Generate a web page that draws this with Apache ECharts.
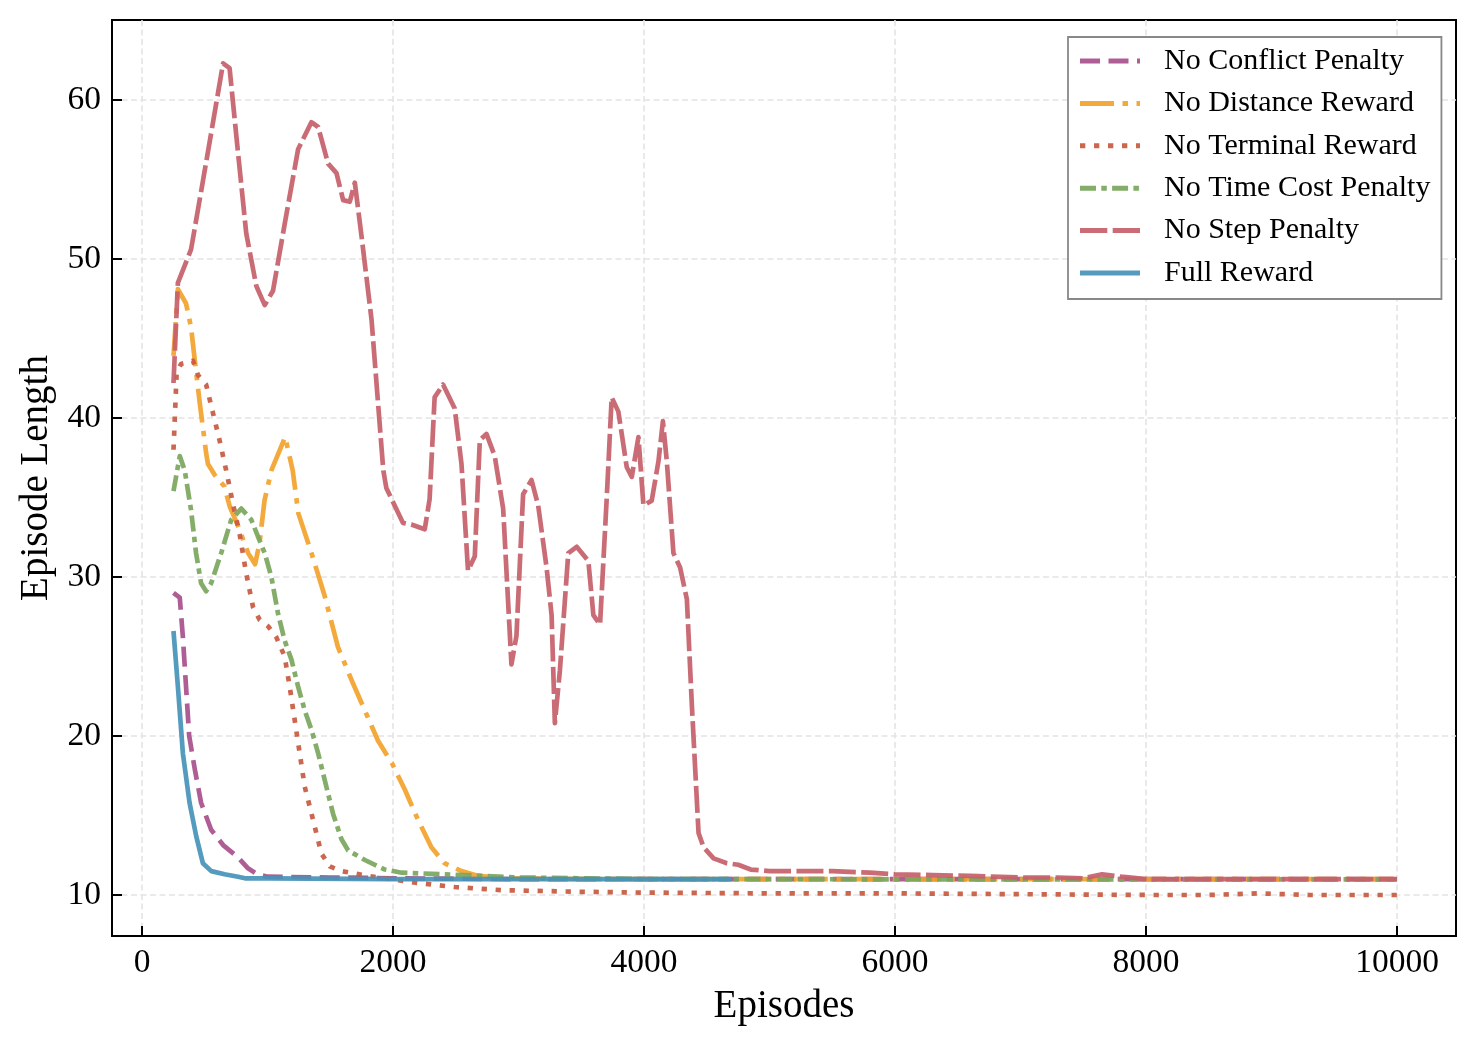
<!DOCTYPE html>
<html>
<head>
<meta charset="utf-8">
<title>Episode Length</title>
<script src="https://cdn.jsdelivr.net/npm/echarts@6/dist/echarts.min.js"></script>
<style>
  html, body { margin: 0; padding: 0; background: #fff; }
  #chart { width: 1479px; height: 1047px; }
</style>
</head>
<body>
<div id="chart"></div>
<script>
// data: [episode, episode length]
var xTicks = [0, 2000, 4000, 6000, 8000, 10000];
var yTicks = [10, 20, 30, 40, 50, 60];

var seriesNames = ['No Conflict Penalty', 'No Distance Reward', 'No Terminal Reward',
    'No Time Cost Penalty', 'No Step Penalty', 'Full Reward'];

var noConflict = [[250, 29.0], [300, 28.7], [325, 26.2], [350, 23.1], [375, 20.0], [420, 17.9],
    [470, 15.8], [550, 14.1], [650, 13.1], [760, 12.4], [840, 11.7], [920, 11.3], [1000, 11.15],
    [1500, 11.1], [2000, 11.05], [3000, 11.0], [4000, 11.0], [5000, 11.0], [6000, 11.0],
    [7000, 11.0], [8000, 11.0], [9000, 11.0], [10000, 11.0]];

var noDistance = [[250, 43.9], [285, 48.1], [350, 47.2], [390, 45.7], [420, 43.6], [460, 40.9],
    [510, 37.8], [525, 37.1], [580, 36.4], [655, 35.7], [700, 34.4], [765, 33.2], [845, 31.5],
    [900, 30.8], [935, 32.1], [975, 34.8], [1030, 36.7], [1140, 38.8], [1200, 36.7], [1245, 34.0],
    [1350, 31.5], [1455, 28.8], [1560, 25.6], [1670, 23.5], [1775, 21.6], [1880, 19.7],
    [1990, 18.3], [2095, 16.6], [2200, 14.7], [2305, 13.0], [2410, 12.0], [2545, 11.5],
    [2680, 11.2], [2900, 11.05], [3500, 11.0], [4500, 11.0], [5500, 11.0], [6500, 11.0],
    [7500, 11.0], [8500, 11.0], [10000, 11.0]];

var noTerminal = [[250, 38.0], [275, 42.8], [310, 43.4], [405, 43.6], [445, 42.7], [510, 42.1],
    [565, 40.3], [617, 38.6], [670, 36.7], [724, 34.6], [777, 32.7], [830, 30.2], [884, 28.1],
    [937, 27.3], [1004, 26.9], [1070, 26.2], [1136, 25.0], [1176, 23.1], [1216, 21.0],
    [1256, 18.9], [1296, 16.8], [1363, 14.7], [1429, 12.6], [1496, 11.8], [1589, 11.5],
    [1800, 11.2], [2150, 10.8], [2490, 10.5], [2870, 10.3], [3500, 10.2], [4000, 10.15],
    [5000, 10.1], [6000, 10.1], [7000, 10.05], [8000, 10.0], [8500, 10.0], [8900, 10.1],
    [9300, 10.0], [10000, 10.0]];

var noTimeCost = [[250, 35.4], [300, 37.6], [340, 36.7], [390, 34.2], [430, 31.5], [470, 29.6],
    [510, 29.1], [550, 29.6], [630, 31.5], [710, 33.6], [790, 34.3], [870, 33.6], [925, 32.5],
    [977, 31.5], [1030, 30.0], [1083, 27.7], [1136, 26.0], [1190, 24.8], [1243, 23.1],
    [1296, 21.6], [1349, 20.4], [1403, 18.9], [1456, 17.2], [1522, 15.1], [1589, 13.5],
    [1642, 12.8], [1775, 12.2], [1935, 11.6], [2068, 11.4], [2413, 11.3], [3000, 11.1],
    [4000, 11.0], [5000, 11.0], [6000, 10.98], [7000, 10.98], [8000, 10.98], [9000, 10.98],
    [10000, 10.98]];

var noStep = [[250, 42.2], [285, 48.5], [390, 50.6], [445, 53.1], [550, 57.9], [645, 62.3],
    [697, 62.0], [764, 56.7], [830, 51.6], [910, 48.3], [977, 47.1], [1043, 48.0], [1136, 52.2],
    [1243, 56.9], [1349, 58.6], [1403, 58.3], [1482, 56.0], [1549, 55.4], [1602, 53.7],
    [1655, 53.6], [1695, 54.8], [1749, 51.4], [1828, 46.2], [1922, 36.7], [1946, 35.6],
    [2079, 33.4], [2145, 33.3], [2252, 33.0], [2291, 34.9], [2331, 41.3], [2398, 42.1],
    [2491, 40.6], [2545, 37.1], [2597, 30.4], [2651, 31.3], [2691, 38.6], [2744, 39.0],
    [2810, 37.6], [2877, 34.3], [2943, 24.5], [2983, 26.3], [3036, 35.2], [3103, 36.1],
    [3156, 34.5], [3223, 30.6], [3263, 27.6], [3289, 20.8], [3329, 24.1], [3396, 31.5],
    [3463, 31.9], [3556, 31.0], [3596, 27.6], [3649, 27.0], [3702, 34.9], [3742, 41.3],
    [3795, 40.4], [3862, 36.9], [3902, 36.3], [3955, 38.8], [3995, 34.5], [4061, 34.8],
    [4115, 37.3], [4150, 39.8], [4181, 37.3], [4234, 31.5], [4287, 30.6], [4341, 28.6],
    [4381, 21.9], [4434, 13.9], [4474, 13.0], [4554, 12.3], [4660, 12.0], [4750, 11.9],
    [4850, 11.6], [5000, 11.5], [5200, 11.5], [5500, 11.5], [5800, 11.4], [6000, 11.3],
    [6300, 11.25], [6600, 11.2], [7000, 11.1], [7300, 11.1], [7500, 11.05], [7650, 11.3],
    [7800, 11.15], [8000, 11.0], [9000, 11.0], [10000, 11.0]];

var fullReward = [[250, 26.6], [285, 23.1], [325, 18.9], [378, 15.8], [431, 13.7], [484, 12.0],
    [551, 11.5], [657, 11.3], [764, 11.15], [820, 11.05], [1000, 11.05], [2000, 11.0],
    [3000, 11.0], [4000, 11.0], [4700, 11.0]];

var FONT = '"Liberation Serif", "Times New Roman", serif';

var seriesData = [noConflict, noDistance, noTerminal, noTimeCost, noStep, fullReward];
var colors = ['#a8508c', '#f2a22a', '#c85a40', '#7aa65c', '#c5606a', '#4693b7'];
var dashes = [[20, 8.5], [34, 8.5, 5.5, 8.5], [5.3, 8.7], [16, 5.3, 5.5, 5.3], [27, 5.4], 'solid'];

// legend swatches: dash segments as [start, end] along a 60px line
var legendSegments = [
    [[0, 20], [28.5, 48.5], [57, 60]],
    [[0, 34], [42.5, 48], [56.5, 60]],
    [[0, 5.3], [14, 19.3], [28, 33.3], [42, 47.3], [56, 60]],
    [[0, 16], [21.3, 26.8], [32.1, 48.1], [53.4, 58.9], [59.9, 60]],
    [[0, 27.3], [32.7, 60]],
    [[0, 60]]
];

function segIcon(segs) {
    var h = 5;
    return 'path://' + segs.map(function (s) {
        return 'M' + s[0] + ',0H' + s[1] + 'V' + h + 'H' + s[0] + 'Z';
    }).join('');
}

var series = seriesData.map(function (d, i) {
    return {
        name: seriesNames[i],
        type: 'line',
        data: d,
        showSymbol: false,
        symbol: 'none',
        smooth: false,
        lineStyle: {
            color: colors[i],
            width: 4.7,
            type: dashes[i],
            cap: 'butt',
            join: 'round',
            opacity: 0.92
        },
        itemStyle: { color: colors[i] }
    };
});

var chart = echarts.init(document.getElementById('chart'));

var option = {
    animation: false,
    backgroundColor: '#fff',
    grid: {
        left: 112, top: 20, right: 23, bottom: 111,
        show: true, borderColor: '#000', borderWidth: 2, backgroundColor: 'transparent'
    },
    legend: {
        orient: 'vertical',
        left: 1068,
        top: 37,
        padding: [9, 11, 11, 12],
        itemWidth: 60,
        itemHeight: 5,
        itemGap: 12.4,
        borderColor: '#888',
        borderWidth: 1.8,
        borderRadius: 0,
        backgroundColor: '#fff',
        selectedMode: false,
        textStyle: {
            fontFamily: FONT,
            fontSize: 30,
            color: '#000',
            lineHeight: 30,
            padding: [0, 0, 0, 19]
        },
        data: seriesNames.map(function (n, i) {
            return { name: n, icon: segIcon(legendSegments[i]), itemStyle: { color: colors[i], opacity: 0.92 } };
        })
    },
    xAxis: {
        type: 'value',
        min: -240,
        max: 10470,
        name: 'Episodes',
        nameLocation: 'middle',
        nameGap: 51,
        nameTextStyle: { fontFamily: FONT, fontSize: 39, color: '#000' },
        axisLine: { show: true, onZero: false, lineStyle: { color: '#000', width: 2 } },
        axisTick: {
            show: true, inside: true, length: 10, customValues: xTicks,
            lineStyle: { color: '#000', width: 2 }
        },
        axisLabel: {
            customValues: xTicks, margin: 10,
            formatter: function (v) { return String(v); },
            fontFamily: FONT, fontSize: 33.5, color: '#000'
        },
        splitLine: {
            show: true,
            lineStyle: { color: '#e4e4e4', width: 1.6, type: [6, 3.5] }
        }
    },
    yAxis: {
        type: 'value',
        min: 7.42,
        max: 65.03,
        name: 'Episode Length',
        nameLocation: 'middle',
        nameRotate: 90,
        nameGap: 53,
        nameTextStyle: { fontFamily: FONT, fontSize: 39, color: '#000' },
        axisLine: { show: true, onZero: false, lineStyle: { color: '#000', width: 2 } },
        axisTick: {
            show: true, inside: true, length: 10, customValues: yTicks,
            lineStyle: { color: '#000', width: 2 }
        },
        axisLabel: {
            customValues: yTicks, margin: 11,
            formatter: function (v) { return String(v); },
            fontFamily: FONT, fontSize: 33.5, color: '#000'
        },
        splitLine: {
            show: true,
            lineStyle: { color: '#e4e4e4', width: 1.6, type: [6, 3.5] }
        }
    },
    series: series
};

chart.setOption(option);
</script>
</body>
</html>
